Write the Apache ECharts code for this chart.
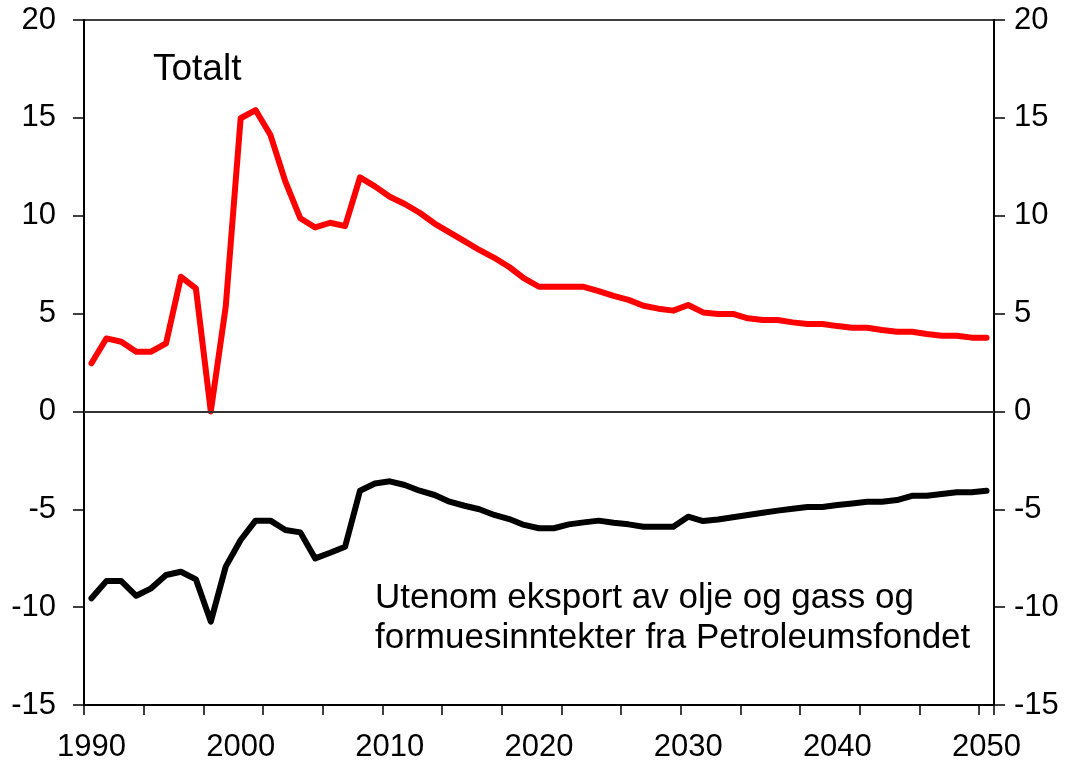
<!DOCTYPE html>
<html>
<head>
<meta charset="utf-8">
<script src="https://cdn.jsdelivr.net/npm/echarts@6/dist/echarts.min.js"></script>
<style>
  html, body { margin: 0; padding: 0; background: #fff; }
  #chart { width: 1069px; height: 763px; }
</style>
</head>
<body>
<div id="chart"></div>
<script>
var years = ['1990','1991','1992','1993','1994','1995','1996','1997','1998','1999',
             '2000','2001','2002','2003','2004','2005','2006','2007','2008','2009',
             '2010','2011','2012','2013','2014','2015','2016','2017','2018','2019',
             '2020','2021','2022','2023','2024','2025','2026','2027','2028','2029',
             '2030','2031','2032','2033','2034','2035','2036','2037','2038','2039',
             '2040','2041','2042','2043','2044','2045','2046','2047','2048','2049',
             '2050'];

// Totalt
var totalt = [2.46, 3.73, 3.56, 3.05, 3.05, 3.48, 6.88, 6.29, 0.0, 5.35,
              14.98, 15.4, 14.12, 11.74, 9.87, 9.4, 9.64, 9.47, 11.96, 11.5,
              10.97, 10.6, 10.15, 9.6, 9.15, 8.7, 8.25, 7.85, 7.38, 6.8,
              6.37, 6.37, 6.37, 6.37, 6.15, 5.9, 5.7, 5.4, 5.25, 5.15,
              5.44, 5.06, 4.98, 4.98, 4.76, 4.67, 4.67, 4.55, 4.47, 4.47,
              4.36, 4.28, 4.28, 4.16, 4.07, 4.07, 3.96, 3.87, 3.87, 3.77,
              3.77];

// Utenom eksport av olje og gass og formuesinntekter fra Petroleumsfondet
var utenom = [-9.55, -8.67, -8.67, -9.42, -9.04, -8.36, -8.19, -8.58, -10.74, -7.93,
              -6.57, -5.58, -5.58, -6.06, -6.18, -7.51, -7.22, -6.91, -4.05, -3.68,
              -3.57, -3.76, -4.05, -4.27, -4.61, -4.82, -5.0, -5.29, -5.5, -5.8,
              -5.97, -5.97, -5.77, -5.67, -5.58, -5.69, -5.77, -5.89, -5.89, -5.89,
              -5.38, -5.6, -5.52, -5.41, -5.29, -5.18, -5.07, -4.97, -4.88, -4.88,
              -4.78, -4.7, -4.61, -4.61, -4.53, -4.31, -4.31, -4.22, -4.13, -4.13,
              -4.05];

var yMin = -15, yMax = 20, yStep = 5;
var font = 'Liberation Sans, Arial, sans-serif';

var myChart = echarts.init(document.getElementById('chart'));

var yAxisBase = function (pos, margin) {
    return {
        type: 'value',
        position: pos,
        min: yMin,
        max: yMax,
        interval: yStep,
        axisLine: { show: true, onZero: false, lineStyle: { color: '#000', width: 2 } },
        axisTick: { show: true, length: 11, lineStyle: { color: '#000', width: 1.5 } },
        axisLabel: { margin: margin, color: '#000', fontSize: 31, fontFamily: font },
        splitLine: { show: false }
    };
};

option = {
    animation: false,
    backgroundColor: '#fff',
    grid: {
        left: 84, right: 75, top: 20, bottom: 58,
        show: true, borderColor: '#000', borderWidth: 1.5, backgroundColor: 'transparent'
    },
    xAxis: {
        type: 'category',
        data: years,
        boundaryGap: true,
        axisLine: { show: true, onZero: false, lineStyle: { color: '#000', width: 2 } },
        axisTick: { show: true, interval: 3, length: 10, lineStyle: { color: '#000', width: 1.5 } },
        axisLabel: { interval: 9, margin: 27, color: '#000', fontSize: 31, fontFamily: font },
        splitLine: { show: false }
    },
    yAxis: [yAxisBase('left', 28), yAxisBase('right', 20)],
    series: [{
        name: 'Totalt',
        type: 'line',
        data: totalt,
        yAxisIndex: 0,
        symbol: 'none',
        lineStyle: { color: '#ff0000', width: 6, cap: 'round', join: 'round' },
        markLine: {
            silent: true,
            symbol: 'none',
            label: { show: false },
            lineStyle: { color: '#333', width: 2, type: 'solid' },
            data: [{ yAxis: 0 }]
        },
        z: 3
    }, {
        name: 'Utenom',
        type: 'line',
        data: utenom,
        yAxisIndex: 0,
        symbol: 'none',
        lineStyle: { color: '#000', width: 6, cap: 'round', join: 'round' },
        z: 3
    }],
    graphic: [{
        type: 'text', left: 153, top: 51,
        style: { text: 'Totalt', fill: '#000', fontSize: 37, fontFamily: font }
    }, {
        type: 'text', left: 375, top: 578,
        style: {
            text: 'Utenom eksport av olje og gass og\nformuesinntekter fra Petroleumsfondet',
            fill: '#000', fontSize: 35, lineHeight: 40, fontFamily: font
        }
    }]
};

myChart.setOption(option);
</script>
</body>
</html>
